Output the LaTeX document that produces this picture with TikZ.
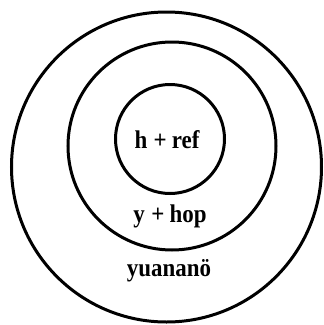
\documentclass[tikz,border=0pt]{standalone}
\usepackage{fontspec}
\setmainfont{Liberation Serif}
\newcommand{\narrowtext}[1]{\scalebox{0.9}[1]{#1}}
\begin{document}
\begin{tikzpicture}[x=1pt,y=-1pt,
  ring/.style={draw=black,line width=3pt},
  lbl/.style={font=\fontsize{25.5}{28}\selectfont\bfseries,inner sep=0pt}]
\useasboundingbox (0,0) rectangle (324,325);
\draw[ring] (166.5,167) circle[radius=155];
\draw[ring] (172,146) circle[radius=104];
\draw[ring] (170,139) circle[radius=54.5];
\node[lbl] (inner) at (167,140) {\narrowtext{h\hspace{0.28em}+\hspace{0.22em}ref}};
\node[lbl] (mid) at (170,216) {\narrowtext{y\hspace{0.28em}+\hspace{0.22em}hop}};
\node[lbl] (outer) at (169,271) {\narrowtext{yuananö}};
\end{tikzpicture}
\end{document}
